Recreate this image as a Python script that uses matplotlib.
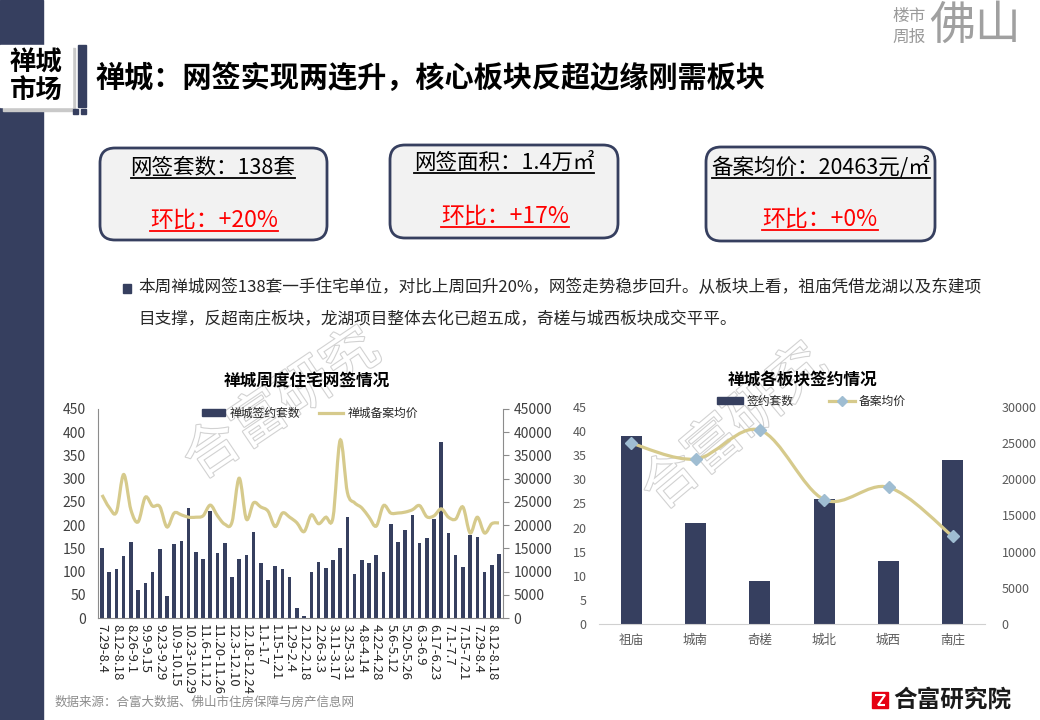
import matplotlib
matplotlib.use("Agg")
import numpy as np
import matplotlib.pyplot as plt
import matplotlib.patches as mpatches
import matplotlib.patheffects as pe
from matplotlib.path import Path
from matplotlib.lines import Line2D

plt.rcParams['font.family'] = ['Noto Sans CJK SC', 'DejaVu Sans']

NAVY = '#363f5f'
KHAKI = '#d6ca8c'
GRAYTXT = '#595959'

# weekly chart (labels shown on every other week)
week_labels = ['7.29-8.4', '8.12-8.18', '8.26-9.1', '9.9-9.15', '9.23-9.29', '10.9-10.15',
               '10.23-10.29', '11.6-11.12', '11.20-11.26', '12.3-12.10', '12.18-12.24',
               '1.1-1.7', '1.15-1.21', '1.29-2.4', '2.12-2.18', '2.26-3.3', '3.11-3.17',
               '3.25-3.31', '4.8-4.14', '4.22-4.28', '5.6-5.12', '5.20-5.26', '6.3-6.9',
               '6.17-6.23', '7.1-7.7', '7.15-7.21', '7.29-8.4', '8.12-8.18']
week_units = [150, 100, 105, 133, 163, 60, 75, 100, 148, 47,
              159, 165, 236, 143, 126, 230, 141, 161, 88, 128,
              135, 185, 118, 81, 113, 105, 88, 22, 4, 99,
              120, 108, 125, 150, 217, 95, 125, 118, 136, 100,
              203, 164, 190, 222, 162, 173, 214, 380, 182, 136,
              110, 178, 175, 100, 115, 138]
week_price = [26500, 23800, 22800, 30900, 23300, 20700, 26000, 24100, 24000, 19600,
              22600, 22200, 21700, 21700, 22000, 24300, 22000, 20200, 20600, 30100,
              21300, 24800, 23900, 23000, 19700, 22600, 21700, 20500, 18600, 22200,
              20300, 21700, 21600, 38300, 27000, 24800, 23700, 21700, 19800, 24200,
              22600, 22600, 22800, 23300, 24200, 21800, 22000, 23500, 21700, 21300,
              23900, 18300, 21700, 18300, 20300, 20463]

# district chart
area_names = ['祖庙', '城南', '奇槎', '城北', '城西', '南庄']
area_units = [39, 21, 9, 26, 13, 34]
area_price = [25000, 22800, 26800, 17200, 18900, 12100]


def smooth_path(xs, ys):
    # excel style smoothed line: bezier segments through every point
    pts = np.column_stack([xs, ys]).astype(float)
    verts = [pts[0]]
    codes = [Path.MOVETO]
    n = len(pts)
    for i in range(n - 1):
        p0 = pts[i - 1] if i > 0 else pts[i]
        p1, p2 = pts[i], pts[i + 1]
        p3 = pts[i + 2] if i + 2 < n else pts[i + 1]
        verts += [p1 + (p2 - p0) / 6, p2 - (p3 - p1) / 6, p2]
        codes += [Path.CURVE4] * 3
    return Path(verts, codes)


def fx(x):
    return x / 1040


def fy(y):
    return 1 - y / 720


fig = plt.figure(figsize=(10.4, 7.2), dpi=100)
bg = fig.add_axes([0, 0, 1, 1])
bg.set_xlim(0, 1040)
bg.set_ylim(720, 0)
bg.axis('off')
bg.set_zorder(-1)

# header decoration
bg.add_patch(mpatches.Rectangle((0, 0), 43, 720, color=NAVY))
bg.add_patch(mpatches.Rectangle((3, 48), 72, 63, color='#c9c9c9'))
bg.add_patch(mpatches.Rectangle((0, 45), 72, 62, color='white'))
bg.add_patch(mpatches.Rectangle((78, 45), 8, 62, color=NAVY))
bg.add_patch(mpatches.Rectangle((73, 109), 5, 5, color=NAVY))
bg.add_patch(mpatches.Rectangle((81, 109), 5, 5, color=NAVY))
bg.text(36, 77, '禅城\n市场', ha='center', va='center', fontsize=19,
        fontweight='bold', linespacing=1.0, color='black')
bg.text(95, 78, '禅城：网签实现两连升，核心板块反超边缘刚需板块', ha='left', va='center',
        fontsize=21, fontweight='bold', color='black')

bg.text(909, 17, '楼市', ha='center', va='center', fontsize=12, color='#9a9a9a')
bg.text(909, 37, '周报', ha='center', va='center', fontsize=12, color='#9a9a9a')
bg.text(975, 26, '佛山', ha='center', va='center', fontsize=33, color='#a0a0a0')

# kpi boxes
boxes = [(100, 148, 227, 92), (390, 145, 228, 93), (706, 147, 229, 94)]
for x0, y0, w, h in boxes:
    bg.add_patch(mpatches.FancyBboxPatch((x0, y0), w, h,
                                         boxstyle='round,pad=0,rounding_size=15',
                                         facecolor='#f2f2f2', edgecolor=NAVY, lw=2))

kpi_texts = [(213, 168, '网签套数：138套', 15.5, 'black'),
             (214, 220, '环比：+20%', 16.5, '#ff0000'),
             (504, 163, '网签面积：1.4万㎡', 15.5, 'black'),
             (505, 216, '环比：+17%', 16.5, '#ff0000'),
             (821, 167, '备案均价：20463元/㎡', 15.5, 'black'),
             (820, 219, '环比：+0%', 16.5, '#ff0000')]
kpi_artists = []
for x, y, s, size, col in kpi_texts:
    t = bg.text(x, y, s, ha='center', va='center', fontsize=size, color=col,
                fontweight='medium')
    kpi_artists.append((t, col))

# paragraph
bg.add_patch(mpatches.Rectangle((123, 284), 8, 9, color=NAVY))
bg.text(138, 288, '本周禅城网签138套一手住宅单位，对比上周回升20%，网签走势稳步回升。从板块上看，祖庙凭借龙湖以及东建项',
        ha='left', va='center', fontsize=12, color='#262626')
bg.text(138, 320, '目支撑，反超南庄板块，龙湖项目整体去化已超五成，奇槎与城西板块成交平平。',
        ha='left', va='center', fontsize=12, color='#262626')

# watermarks
for cx, cy, ang in [(282, 405, 34), (735, 428, 40)]:
    bg.text(cx, cy, '合富研究', ha='center', va='center', fontsize=40, rotation=ang,
            color='white', path_effects=[pe.Stroke(linewidth=1.6, foreground='#d2d2d2'), pe.Normal()])

# chart titles
bg.text(307, 382, '禅城周度住宅网签情况', ha='center', va='center', fontsize=12,
        fontweight='bold', color='black')
bg.text(803, 380, '禅城各板块签约情况', ha='center', va='center', fontsize=12,
        fontweight='bold', color='black')

# footer
bg.text(55, 702, '数据来源：合富大数据、佛山市住房保障与房产信息网', ha='left', va='center',
        fontsize=9, color='#8c8c8c')
bg.add_patch(mpatches.Rectangle((872, 692), 16, 16, color='#e60012'))
bg.add_patch(mpatches.Polygon([(875, 695), (885, 695), (878, 705), (885, 705)],
                              closed=False, fill=False, edgecolor='white', lw=1.5))
bg.text(893, 700, '合富研究院', ha='left', va='center', fontsize=17, fontweight='bold',
        color='#1a1a1a')

# ---- left chart ----
ax = fig.add_axes([fx(98.4), fy(618), fx(502.6) - fx(98.4), fy(409) - fy(618)])
ax.patch.set_alpha(0)
xw = np.arange(len(week_units))
ax.bar(xw, week_units, width=0.5, color=NAVY, zorder=2)
ax.set_xlim(-0.5, len(week_units) - 0.5)
ax.set_ylim(0, 450)
ax.set_yticks(np.arange(0, 451, 50))
ax.set_xticks(xw[::2])
ax.set_xticklabels(week_labels, rotation=270, fontsize=9.5, color='#262626')
ax.tick_params(axis='x', length=0, pad=4)
ax.tick_params(axis='y', length=0, pad=9, labelsize=10, labelcolor='#404040')
for side in ['top', 'right']:
    ax.spines[side].set_visible(False)
ax.spines['left'].set_color('#8c8c8c')
ax.spines['bottom'].set_color('#8c8c8c')

ax2 = ax.twinx()
ax2.set_ylim(0, 45000)
ax2.set_yticks(np.arange(0, 45001, 5000))
ax2.add_patch(mpatches.PathPatch(smooth_path(xw, week_price), facecolor='none',
                                 edgecolor=KHAKI, lw=2.3, zorder=3))
ax2.tick_params(axis='y', length=4, width=0.8, color='#8c8c8c', pad=4, labelsize=10,
                labelcolor='#404040')
for side in ['top', 'left', 'bottom']:
    ax2.spines[side].set_visible(False)
ax2.spines['right'].set_color('#8c8c8c')
h1 = [mpatches.Patch(color=NAVY), Line2D([], [], color=KHAKI, lw=2.3)]
ax2.legend(h1, ['禅城签约套数', '禅城备案均价'], loc='center', ncol=2, frameon=False,
           bbox_to_anchor=(fx(310), fy(413)), bbox_transform=fig.transFigure,
           fontsize=8.5, handlelength=2.0, handleheight=0.5, columnspacing=1.6,
           handletextpad=0.4, labelcolor='#262626')

# ---- right chart ----
bx = fig.add_axes([fx(599), fy(624), fx(985) - fx(599), fy(407) - fy(624)])
bx.patch.set_alpha(0)
xa = np.arange(len(area_names))
bx.bar(xa, area_units, width=0.33, color=NAVY, zorder=2)
bx.set_xlim(-0.5, len(area_names) - 0.5)
bx.set_ylim(0, 45)
bx.set_yticks(np.arange(0, 46, 5))
bx.set_xticks(xa)
bx.set_xticklabels(area_names, fontsize=9, color=GRAYTXT)
bx.tick_params(axis='x', length=0, pad=7)
bx.tick_params(axis='y', length=0, pad=9, labelsize=9, labelcolor=GRAYTXT)
for side in ['top', 'right', 'left']:
    bx.spines[side].set_visible(False)
bx.spines['bottom'].set_color('#d0d0d0')

bx2 = bx.twinx()
bx2.set_ylim(0, 30000)
bx2.set_yticks(np.arange(0, 30001, 5000))
bx2.add_patch(mpatches.PathPatch(smooth_path(xa, area_price), facecolor='none',
                                 edgecolor=KHAKI, lw=2.3, zorder=3))
bx2.plot(xa, area_price, linestyle='none', marker='D', markersize=6, color='#9fbdd2', zorder=4)
bx2.tick_params(axis='y', length=0, pad=12, labelsize=9, labelcolor=GRAYTXT)
for side in ['top', 'left', 'bottom', 'right']:
    bx2.spines[side].set_visible(False)
h2 = [mpatches.Patch(color=NAVY),
      Line2D([], [], color=KHAKI, lw=2.3, marker='D', markersize=5,
             markerfacecolor='#9fbdd2', markeredgecolor='#9fbdd2')]
bx2.legend(h2, ['签约套数', '备案均价'], loc='center', ncol=2, frameon=False,
           bbox_to_anchor=(fx(811), fy(401)), bbox_transform=fig.transFigure,
           fontsize=8.5, handlelength=2.2, handleheight=0.5, columnspacing=3.0,
           handletextpad=0.3, labelcolor='#262626')

# underline the kpi texts
renderer = fig.canvas.get_renderer()
inv = bg.transData.inverted()
for t, col in kpi_artists:
    bb = t.get_window_extent(renderer)
    (x0, y0), (x1, _) = inv.transform([(bb.x0, bb.y0), (bb.x1, bb.y1)])
    bg.add_line(Line2D([x0, x1], [y0 - 1, y0 - 1], color=col, lw=1.3))

fig.savefig('out.png', dpi=100)
